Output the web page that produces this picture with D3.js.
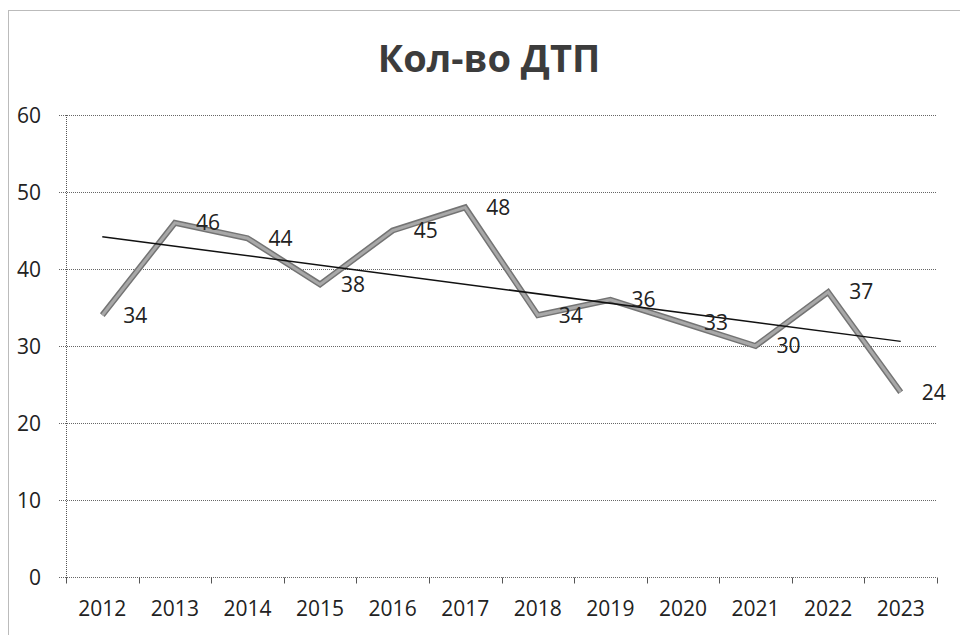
<!DOCTYPE html>
<html>
<head>
<meta charset="utf-8">
<script src="https://cdn.jsdelivr.net/npm/d3@7"></script>
<style>
  body { margin: 0; background: #fff; }
  svg, svg g { font-family: "Open Sans", "Noto Sans", sans-serif; }
</style>
</head>
<body>
<div id="chart"></div>
<script>
const width = 960
const height = 635
const margin = { top: 115, right: 23, bottom: 58, left: 66 }

const years = ["2012", "2013", "2014", "2015", "2016", "2017", "2018", "2019", "2020", "2021", "2022", "2023"]
const accidents = [34, 46, 44, 38, 45, 48, 34, 36, 33, 30, 37, 24]
const trendEnds = [44.2, 30.6]
const yTicks = [0, 10, 20, 30, 40, 50, 60]
const title = "Кол-во ДТП"
const font = '"Open Sans", "Noto Sans", sans-serif'

const x = d3.scaleBand(years, [margin.left, width - margin.right])
const y = d3.scaleLinear([0, 60], [height - margin.bottom, margin.top])
const cx = (d) => x(d) + x.bandwidth() / 2

const svg = d3.select("#chart").append("svg")
  .attr("width", width)
  .attr("height", height)

// outer frame
svg.append("rect")
  .attr("x", 8.5).attr("y", 10.5)
  .attr("width", width).attr("height", height)
  .attr("fill", "none")
  .attr("stroke", "#777")
  .attr("stroke-dasharray", "1,1")

svg.append("text")
  .attr("x", 489).attr("y", 72)
  .attr("text-anchor", "middle")
  .style("font-size", "38px")
  .style("font-weight", "bold")
  .style("fill", "#3c3c3c")
  .text(title)

// grid
svg.append("g")
  .selectAll("line")
  .data(yTicks)
  .join("line")
  .attr("x1", margin.left - 7)
  .attr("x2", width - margin.right)
  .attr("y1", (d) => Math.round(y(d)) + 0.5)
  .attr("y2", (d) => Math.round(y(d)) + 0.5)
  .attr("stroke", "#666")
  .attr("stroke-dasharray", "1,1")

// y axis
const yAxis = svg.append("g")
  .attr("transform", `translate(${margin.left - 22},0)`)
  .call(d3.axisLeft(y).tickValues(yTicks).tickSize(0))
  .attr("font-family", font)
yAxis.select(".domain").remove()
yAxis.selectAll("text")
  .style("font-size", "21px")
  .style("fill", "#222")
  .attr("dy", "0.35em")

svg.append("line")
  .attr("x1", margin.left + 0.5).attr("x2", margin.left + 0.5)
  .attr("y1", y(60)).attr("y2", y(0) + 6)
  .attr("stroke", "#555")
  .attr("stroke-dasharray", "1,1")

// x axis
const xAxis = svg.append("g")
  .attr("transform", `translate(0,${Math.round(y(0)) + 0.5})`)
  .call(d3.axisBottom(x).tickSize(0).tickPadding(24))
  .attr("font-family", font)
xAxis.select(".domain").remove()
xAxis.selectAll("text")
  .style("font-size", "21px")
  .style("fill", "#222")
xAxis.selectAll(".sep")
  .data(years.concat(["end"]))
  .join("line")
  .attr("class", "sep")
  .attr("x1", (d, i) => Math.round(i < years.length ? x(d) : x.range()[1]) + 0.5)
  .attr("x2", (d, i) => Math.round(i < years.length ? x(d) : x.range()[1]) + 0.5)
  .attr("y1", 0).attr("y2", 6)
  .attr("stroke", "#555")

// series
const line = d3.line()
  .x((d, i) => cx(years[i]))
  .y((d) => y(d))

svg.append("path")
  .datum(accidents)
  .attr("d", line)
  .attr("fill", "none")
  .attr("stroke", "#747474")
  .attr("stroke-width", 6)
svg.append("path")
  .datum(accidents)
  .attr("d", line)
  .attr("fill", "none")
  .attr("stroke", "#a8a8a8")
  .attr("stroke-width", 3)

// trend
svg.append("line")
  .attr("x1", cx(years[0])).attr("y1", y(trendEnds[0]))
  .attr("x2", cx(years[years.length - 1])).attr("y2", y(trendEnds[1]))
  .attr("stroke", "#111")
  .attr("stroke-width", 1.5)

// labels
svg.append("g")
  .selectAll("text")
  .data(accidents)
  .join("text")
  .attr("x", (d, i) => cx(years[i]) + 21)
  .attr("y", (d) => y(d))
  .attr("dy", "0.35em")
  .style("font-size", "21px")
  .style("fill", "#222")
  .text((d) => d)
</script>
</body>
</html>
